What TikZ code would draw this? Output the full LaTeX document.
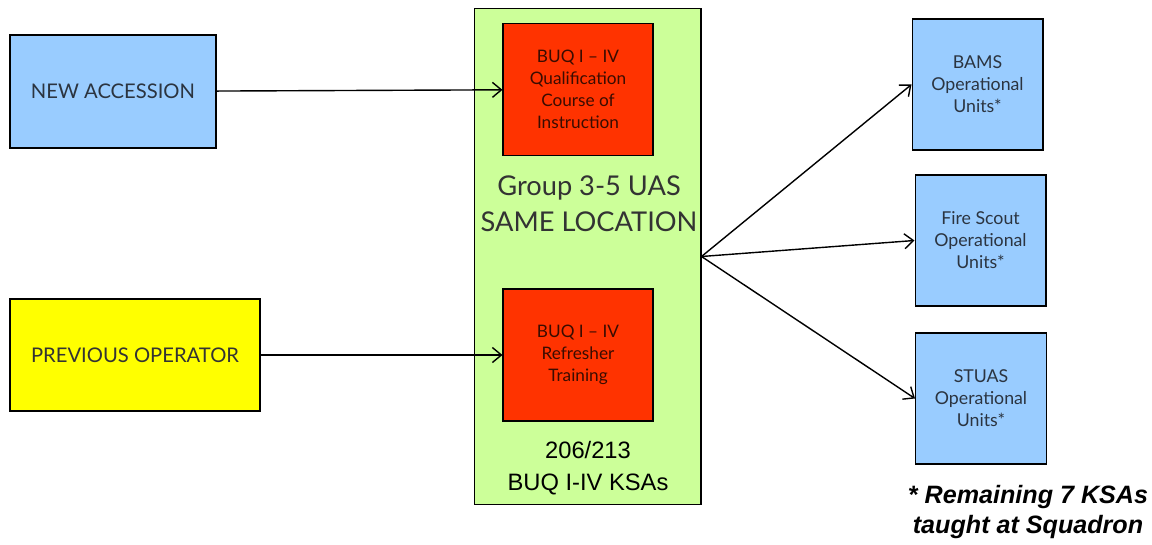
\documentclass[tikz,border=0pt]{standalone}
\usepackage{fontspec}
\setmainfont{Lato}
\setsansfont{Liberation Sans}
\usetikzlibrary{arrows.meta}
\definecolor{unitblue}{HTML}{99CCFF}
\definecolor{prevyellow}{HTML}{FFFF00}
\definecolor{sitegreen}{HTML}{CCFF99}
\definecolor{courseRed}{HTML}{FF3300}
\definecolor{bluetext}{HTML}{2B3440}
\definecolor{redtext}{HTML}{3A0C00}
\begin{document}
\begin{tikzpicture}[x=0.02cm, y=-0.02cm, >={Straight Barb[length=1.8mm,width=3mm]},
		box/.style={draw, line width=0.6pt, inner sep=0pt, align=center},
		unit/.style={box, fill=unitblue, text=bluetext, minimum width=2.62cm, minimum height=2.62cm, font=\fontsize{10.1}{12.5}\selectfont},
		course/.style={box, fill=courseRed, text=redtext, minimum width=3cm, minimum height=2.64cm, font=\fontsize{9.8}{12.5}\selectfont},
		flow/.style={->, line width=0.8pt}]
		\useasboundingbox (0,0) rectangle (1152,544);
		% entry boxes
		\node[box, fill=unitblue, text=bluetext, minimum width=4.12cm, minimum height=2.26cm, font=\fontsize{11.5}{14}\selectfont] (acc) at (113,91.5) {NEW ACCESSION};
		\node[box, fill=prevyellow, text=black!80, minimum width=5cm, minimum height=2.24cm, font=\fontsize{11.5}{14}\selectfont] (prev) at (135,355) {PREVIOUS OPERATOR};
		% training site
		\node[box, fill=sitegreen, minimum width=4.54cm, minimum height=9.94cm] (site) at (587.5,256.5) {};
		\node[course] (quali) at (578,89.5) {BUQ I -- IV\\Qualification\\Course of\\Instruction};
		\node[course] (refresh) at (578,355) {BUQ I -- IV\\Refresher\\Training};
		\node[align=center, text=black!80, font=\fontsize{15.5}{20.5}\selectfont] (loc) at (589,204) {Group 3-5 UAS\\SAME LOCATION};
		\node[align=center, font=\sffamily\fontsize{13.5}{18}\selectfont] (ksa) at (588,468) {206/213\\BUQ I-IV KSAs};
		% operational units
		\node[unit] (bams) at (977.5,84.5) {BAMS\\Operational\\Units*};
		\node[unit] (fire) at (980.5,240.5) {Fire Scout\\Operational\\Units*};
		\node[unit] (stuas) at (981,398.5) {STUAS\\Operational\\Units*};
		\node[align=center, font=\sffamily\bfseries\itshape\fontsize{14.3}{17}\selectfont] (note) at (1028,512) {* Remaining 7 KSAs\\taught at Squadron};
		\draw[flow] (acc) -- (quali);
		\draw[flow] (prev) -- (refresh);
		\draw[flow] (site.east) -- (bams.west);
		\draw[flow] (site.east) -- (fire.west);
		\draw[flow] (site.east) -- (stuas.west);
\end{tikzpicture}
\end{document}
